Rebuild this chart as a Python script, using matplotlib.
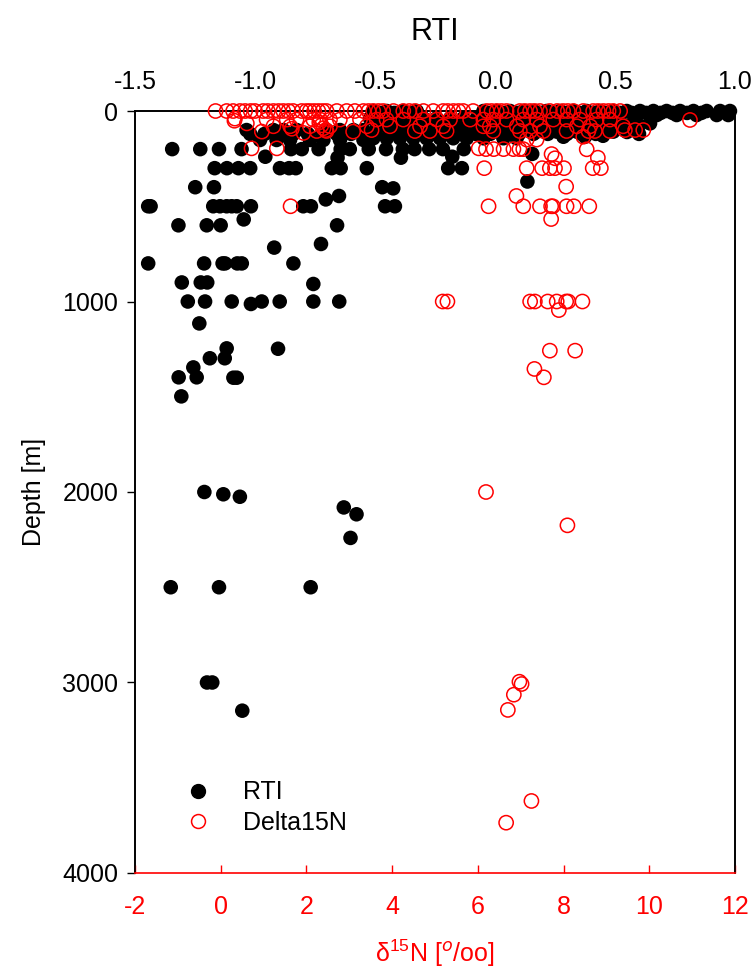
"""RTI and delta15N depth profiles on twin x axes."""

import matplotlib.pyplot as plt
from matplotlib.lines import Line2D

plt.rcParams["font.family"] = ["Liberation Sans", "DejaVu Sans"]
plt.rcParams["mathtext.fontset"] = "custom"
plt.rcParams["mathtext.rm"] = "Liberation Sans"

# RTI (top axis) -- (value, depth m)
rti_val = [
    # surface band, depth ~0
    -0.507, -0.451, -0.382, -0.326, -0.048, 0.007, 0.063, 0.118,
    0.160, 0.215, 0.271, 0.327, 0.382, 0.438, 0.493, 0.549, 0.604, 0.660,
    0.715, 0.771, 0.827, 0.882, 0.938, 0.979,
    # ~10 m
    -0.48, -0.42, -0.35, -0.02, 0.04, 0.09, 0.14, 0.19, 0.24, 0.30, 0.35,
    0.41, 0.46, 0.52, 0.57, 0.63, 0.69, 0.74, 0.80, 0.86,
    # ~20 m
    0.174, 0.257, 0.340, 0.424, 0.507, 0.590, 0.674, 0.757, 0.840, 0.924, 0.972,
    # ~40 m
    -0.521, -0.465, -0.410, -0.354, -0.298, -0.243, -0.187, -0.132, -0.076,
    -0.021, 0.035, 0.090, 0.146,
    # ~65 m
    0.160, 0.229, 0.299, 0.368, 0.438, 0.507, 0.576, 0.646,
    # ~75 m
    -0.48, -0.42, -0.36, -0.30, -0.24, -0.18, -0.12, -0.06, 0.00, 0.06,
    0.12, 0.20, 0.27, 0.33, 0.40, 0.47, 0.54, 0.60,
    # ~100 m
    -1.035, -0.923, -0.882, -0.826, -0.701, -0.646, -0.590, -0.548,
    -0.493, -0.437, -0.382, -0.326, -0.271, -0.215, -0.160, -0.104, -0.048,
    0.007, 0.063, 0.118, 0.174, 0.257, 0.340, 0.424, 0.493, 0.55,
    # ~120 m
    -1.02, -0.96, -0.90, -0.84, -0.78, -0.72, -0.66, -0.60, -0.55,
    -0.50, -0.44, -0.38, -0.32, -0.26, -0.20, -0.14, -0.08, -0.02, 0.04,
    0.10, 0.16, 0.22, 0.30, 0.36, 0.42, 0.60, 0.45,
    # ~140-150 m
    -0.979, -0.910, -0.854, -0.771, -0.715, -0.646, -0.548,
    -0.507, -0.451, -0.396, -0.340, -0.285, -0.229, -0.174, -0.118, -0.048,
    0.035, 0.090, 0.285, 0.375,
    # 200 m
    -1.345, -1.228, -1.150, -1.056, -0.850, -0.805, -0.735, -0.643, -0.605,
    -0.526, -0.454, -0.384, -0.335, -0.274, -0.217, -0.130,
    # 220-250 m
    -0.957, -0.656, -0.392, -0.178, 0.155,
    # 300 m
    -1.168, -1.117, -1.069, -1.020, -0.896, -0.858, -0.830, -0.680, -0.643,
    -0.534, -0.195, -0.138,
    # 370-470 m
    0.135, -1.249, -1.171, -0.470, -0.424, -0.705, -0.650,
    # 500 m
    -1.445, -1.435, -1.174, -1.146, -1.118, -1.097, -1.076, -1.017, -0.799,
    -0.767, -0.458, -0.417,
    # 570-900 m
    -1.047, -1.319, -1.201, -1.143, -0.658, -0.920, -0.725,
    -1.445, -1.212, -1.135, -1.125, -1.074, -1.055, -0.840,
    -1.305, -1.226, -1.199, -0.757,
    # 1000-1500 m
    -1.280, -1.208, -1.097, -1.017, -0.972, -0.897, -0.757, -0.649,
    -1.232, -1.118, -1.126, -1.188, -0.904, -1.257, -1.318, -1.243, -1.090,
    -1.076, -1.307,
    # deep
    -1.211, -1.132, -1.063, -0.630, -0.577, -0.602, -1.351, -1.150, -0.768,
    -1.200, -1.178, -1.053,
]
rti_depth = [
    0, 0, 0, 0, 0, 0, 0, 0,
    0, 0, 0, 0, 0, 0, 0, 0, 0, 0,
    0, 0, 0, 0, 0, 0,
    10, 10, 10, 10, 10, 10, 10, 10, 10, 10, 10,
    10, 10, 10, 10, 10, 10, 10, 10, 10,
    21, 21, 21, 21, 21, 21, 21, 21, 21, 21, 21,
    38, 38, 38, 38, 38, 38, 38, 38, 38,
    38, 38, 38, 38,
    65, 65, 65, 65, 65, 65, 65, 65,
    75, 75, 75, 75, 75, 75, 75, 75, 75, 75,
    75, 75, 75, 75, 75, 75, 75, 75,
    100, 100, 100, 100, 100, 100, 100, 100,
    91, 91, 91, 91, 91, 91, 91, 91, 91,
    91, 91, 91, 108, 108, 108, 108, 108, 110,
    120, 120, 120, 120, 120, 120, 120, 120, 120,
    120, 120, 120, 120, 120, 120, 120, 120, 120, 120,
    120, 120, 120, 120, 120, 120, 120, 130,
    152, 152, 152, 152, 152, 152, 152,
    143, 143, 143, 143, 143, 143, 143, 143, 143,
    143, 143, 135, 135,
    200, 200, 200, 200, 200, 200, 200, 200, 200,
    200, 200, 200, 200, 200, 200, 200,
    240, 245, 245, 240, 225,
    300, 300, 300, 300, 300, 300, 300, 300, 300,
    300, 300, 300,
    370, 400, 400, 400, 406, 464, 446,
    500, 500, 500, 500, 500, 500, 500, 500, 500,
    500, 500, 500,
    569, 600, 600, 600, 600, 717, 698,
    800, 800, 800, 800, 800, 800, 800,
    900, 900, 900, 908,
    1000, 1000, 1000, 1013, 1000, 1000, 1000, 1000,
    1115, 1246, 1298, 1298, 1248, 1346, 1398, 1398, 1400,
    1400, 1498,
    2000, 2012, 2025, 2081, 2117, 2241, 2500, 2500, 2500,
    3000, 3000, 3148,
]

# delta15N (bottom axis) -- (value, depth m)
d15n_val = [
    # surface row
    -0.12, 0.14, 0.29, 0.57, 0.80, 0.99, 1.23, 1.46, 1.69, 1.89, 2.08, 2.28,
    2.47, 2.71, 2.94, 3.13, 3.33, 3.56, 3.79, 4.03, 4.26, 4.53, 4.73, 4.96,
    5.19, 5.43, 5.66, 5.89, 6.21, 6.44, 6.67, 6.98, 7.22, 7.45, 7.68, 7.99,
    8.23, 8.46, 8.69, 8.93, 9.16, 9.32,
    0.45, 0.70, 1.10, 1.35, 1.58, 2.00, 2.18, 2.38, 3.45, 3.68, 4.40, 5.30,
    5.55, 6.32, 6.55, 7.10, 7.33, 7.85, 8.10, 8.80, 9.05,
    # ~45 m
    0.32, 0.33, 0.61, 1.07, 1.54, 1.77, 2.16, 2.32, 2.55, 2.78, 3.25, 3.64,
    3.87, 4.26, 4.73, 5.04, 5.35, 5.82, 6.13, 6.36, 6.67, 7.06, 7.37, 7.76,
    8.07, 8.38, 8.77, 9.08, 10.95,
    # ~60-80 m
    2.30, 2.35, 1.23, 1.62, 2.08, 2.55, 3.41, 3.95, 4.65, 5.19, 6.13, 6.28,
    6.91, 7.45, 8.31, 8.62, 9.39,
    # ~90-115 m
    0.96, 1.66, 1.93, 2.24, 2.40, 2.45, 2.47, 3.09, 3.52, 4.53, 4.88, 5.27,
    6.36, 6.98, 7.22, 7.53, 8.07, 8.58, 8.73, 9.08, 9.43, 9.67, 9.86,
    # ~135-150 m
    7.14, 7.37, 8.46,
    # ~200 m
    0.72, 1.31, 6.02, 6.19, 6.37, 6.60, 6.83, 6.97, 7.06, 8.54,
    # 220-250 m
    7.72, 7.80, 8.80,
    # 300 m
    6.15, 7.14, 7.50, 7.68, 7.80, 8.01, 8.68, 8.87,
    # 400-570 m
    8.06, 6.90, 1.63, 6.25, 7.06, 7.45, 7.71, 7.75, 8.07, 8.24, 8.60, 7.71,
    # 1000-1400 m
    5.18, 5.29, 7.22, 7.33, 7.63, 7.84, 8.06, 8.11, 8.44, 7.89, 7.68, 8.27,
    7.32, 7.54,
    # deep
    6.19, 8.09, 6.97, 7.02, 6.84, 6.70, 7.25, 6.66,
]
d15n_depth = [
    0, 0, 0, 0, 0, 0, 0, 0, 0, 0, 0, 0,
    0, 0, 0, 0, 0, 0, 0, 0, 0, 0, 0, 0,
    0, 0, 0, 0, 0, 0, 0, 0, 0, 0, 0, 0,
    0, 0, 0, 0, 0, 0,
    0, 0, 0, 0, 0, 0, 0, 0, 0, 0, 0, 0,
    0, 0, 0, 0, 0, 0, 0, 0, 0,
    51, 40, 65, 45, 45, 45, 45, 45, 45, 45, 45, 45,
    45, 45, 45, 45, 45, 45, 45, 45, 45, 45, 45, 45,
    45, 45, 45, 45, 47,
    60, 75, 80, 80, 80, 80, 80, 80, 80, 80, 80, 80,
    80, 80, 80, 80, 80,
    108, 93, 115, 105, 90, 100, 105, 108, 100, 105, 105, 105,
    105, 105, 105, 105, 105, 105, 105, 105, 100, 100, 100,
    150, 150, 135,
    196, 196, 196, 200, 200, 200, 200, 200, 200, 201,
    226, 248, 245,
    300, 300, 300, 300, 300, 300, 300, 300,
    397, 446, 500, 500, 500, 500, 500, 500, 500, 500, 500, 567,
    1000, 1000, 1000, 1000, 1000, 1000, 1000, 1000, 1000, 1045, 1258, 1258,
    1354, 1398,
    2000, 2175, 2996, 3008, 3064, 3144, 3622, 3736,
]

RED = "#ff0000"
FS = 18

fig = plt.figure(figsize=(7.55, 9.73), dpi=100)
ax = fig.add_axes([0.1788, 0.1028, 0.7947, 0.7831])
ax2 = ax.twiny()

ax2.scatter(rti_val, rti_depth, s=110, color="black", edgecolors="none",
            zorder=2, clip_on=False)
ax.scatter(d15n_val, d15n_depth, s=105, facecolors="none", edgecolors=RED,
           linewidths=1.1, zorder=3, clip_on=False)
ax.set_zorder(ax2.get_zorder() + 1)
ax.patch.set_visible(False)

ax.set_xlim(-2, 12)
ax.set_ylim(4000, 0)
ax2.set_xlim(-1.5, 1.0)
ax.set_xticks(range(-2, 13, 2))
ax.set_yticks([0, 1000, 2000, 3000, 4000])
ax2.set_xticks([-1.5, -1.0, -0.5, 0.0, 0.5, 1.0])
ax2.set_xticklabels(["-1.5", "-1.0", "-0.5", "0.0", "0.5", "1.0"])
ax.set_xticklabels([str(v) for v in range(-2, 13, 2)])

ax.tick_params(axis="x", direction="in", colors=RED, length=6, width=1,
               labelsize=FS, pad=16)
ax.tick_params(axis="y", direction="out", length=6, width=1, labelsize=FS,
               pad=6)
ax2.tick_params(axis="x", length=0, labelsize=FS, pad=12)
ax.spines["bottom"].set_color(RED)
for sp in ax.spines.values():
    sp.set_linewidth(1.2)
for sp in ax2.spines.values():
    sp.set_linewidth(1.2)
ax2.spines["bottom"].set_visible(False)

ax.set_ylabel("Depth [m]", fontsize=FS, labelpad=12)
ax.set_xlabel(r"δ$^{15}$N [$^{o}$/oo]", fontsize=FS, color=RED, labelpad=13)
ax2.set_title("RTI", fontsize=22, pad=22)

handles = [
    Line2D([], [], linestyle="none", marker="o", markersize=10,
           markerfacecolor="black", markeredgecolor="black"),
    Line2D([], [], linestyle="none", marker="o", markersize=10,
           markerfacecolor="none", markeredgecolor=RED, markeredgewidth=1.1),
]
ax2.legend(handles, ["RTI", "Delta15N"], loc="upper left",
           bbox_to_anchor=(0.2457, 0.198), bbox_transform=fig.transFigure,
           frameon=False, fontsize=FS, handlelength=1.0, handletextpad=1.3,
           borderpad=0, borderaxespad=0, labelspacing=0.25)

fig.savefig("out.png", dpi=100)
